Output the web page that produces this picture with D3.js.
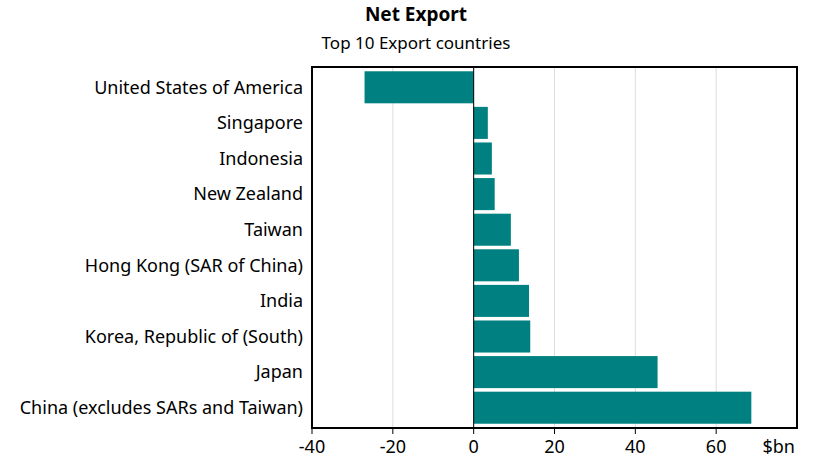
<!DOCTYPE html>
<html>
<head>
<meta charset="utf-8">
<script src="https://cdn.jsdelivr.net/npm/d3@7"></script>
<style>
body { margin: 0; background: #fff; }
text { font-family: "Noto Sans", sans-serif; }
</style>
</head>
<body>
<svg id="chart" width="832" height="468"></svg>
<script>
const countries = [
	"United States of America", "Singapore", "Indonesia", "New Zealand", "Taiwan",
	"Hong Kong (SAR of China)", "India", "Korea, Republic of (South)", "Japan",
	"China (excludes SARs and Taiwan)"
];
const netExport = [-27, 3.5, 4.5, 5.2, 9.2, 11.2, 13.7, 14, 45.5, 68.7];
const xTicks = [-40, -20, 0, 20, 40, 60];

const svg = d3.select("#chart");
const plotL = 312, plotR = 797, plotT = 67, plotB = 428;

const x = d3.scaleLinear().domain([-40, 80]).range([plotL, plotR]);
const y = d3.scaleBand().domain(countries).range([plotT, plotB]).paddingInner(0.1).paddingOuter(0.12);

// gridlines
svg.selectAll(".grid").data(xTicks.filter(t => t > -40))
	.enter().append("line")
	.attr("x1", d => x(d)).attr("x2", d => x(d))
	.attr("y1", plotT).attr("y2", plotB)
	.attr("stroke", "#ddd")
	.attr("stroke-width", 1);

svg.selectAll(".bar").data(countries)
	.enter().append("rect")
	.attr("x", (d, i) => x(Math.min(0, netExport[i])))
	.attr("width", (d, i) => Math.abs(x(netExport[i]) - x(0)))
	.attr("y", d => y(d))
	.attr("height", y.bandwidth())
	.attr("fill", "#008080");

// zero line on top
svg.append("line")
	.attr("x1", x(0)).attr("x2", x(0)).attr("y1", plotT).attr("y2", plotB)
	.attr("stroke", "#000").attr("stroke-width", 1);

svg.append("rect")
	.attr("x", plotL).attr("y", plotT).attr("width", plotR - plotL).attr("height", plotB - plotT)
	.attr("fill", "none").attr("stroke", "#000").attr("stroke-width", 2);

// category labels
svg.selectAll(".lab").data(countries)
	.enter().append("text")
	.attr("x", plotL - 9)
	.attr("y", d => y(d) + y.bandwidth() / 2)
	.attr("dy", "0.35em")
	.attr("text-anchor", "end")
	.attr("font-size", 18)
	.text(d => d);

// x ticks
svg.selectAll(".tick").data(xTicks)
	.enter().append("line")
	.attr("x1", d => x(d)).attr("x2", d => x(d))
	.attr("y1", plotB).attr("y2", plotB + 6)
	.attr("stroke", "#000");
svg.selectAll(".tl").data(xTicks)
	.enter().append("text")
	.attr("x", d => x(d)).attr("y", plotB + 25)
	.attr("text-anchor", "middle").attr("font-size", 18)
	.text(d => d);
svg.append("text").attr("x", x(80) - 2).attr("y", plotB + 25)
	.attr("text-anchor", "end").attr("font-size", 18).text("$bn");

svg.append("text").attr("x", 416).attr("y", 21).attr("text-anchor", "middle")
	.attr("font-size", 19).attr("font-weight", "bold").text("Net Export");
svg.append("text").attr("x", 416).attr("y", 49).attr("text-anchor", "middle")
	.attr("font-size", 17).text("Top 10 Export countries");
</script>
</body>
</html>
